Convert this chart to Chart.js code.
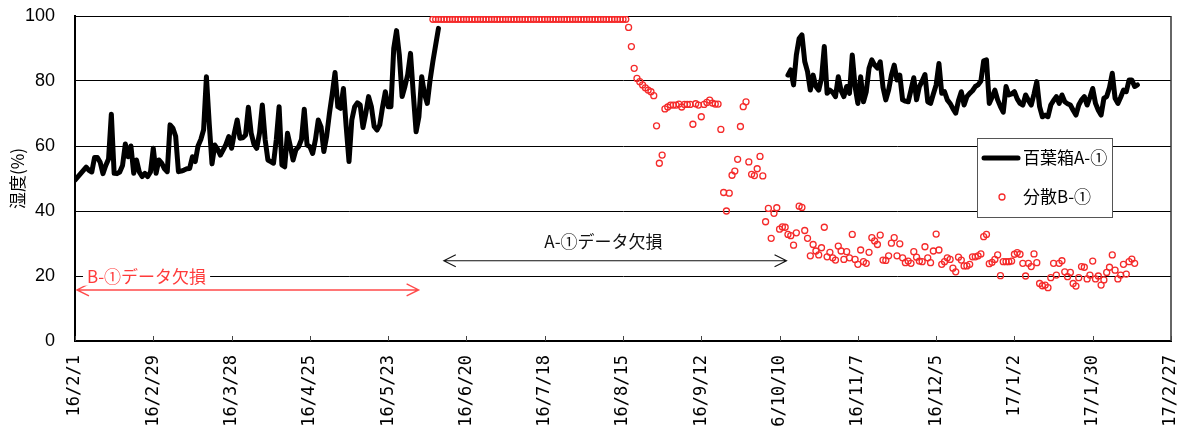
<!DOCTYPE html>
<html>
<head>
<meta charset="utf-8">
<script src="https://cdn.jsdelivr.net/npm/chart.js@4/dist/chart.umd.min.js"></script>
<style>
  html, body { margin: 0; padding: 0; background: #fff; }
  #wrap { width: 1182px; height: 427px; position: relative; }
</style>
</head>
<body>
<div id="wrap"><canvas id="c" width="1182" height="427"></canvas></div>
<script>
// Axis tick labels (one every 28 days from 16/2/1)
const tickLabels = ['16/2/1','16/2/29','16/3/28','16/4/25','16/5/23','16/6/20','16/7/18',
  '16/8/15','16/9/12','16/10/10','16/11/7','16/12/5','17/1/2','17/1/30','17/2/27'];
const yTicks = [0, 20, 40, 60, 80, 100];
const seriesNames = ['百葉箱A-①', '分散B-①'];
const yTitle = '湿度(%)';
const noteB = 'B-①データ欠損';
const noteA = 'A-①データ欠損';

// Daily humidity, 百葉箱A-① (first period)
const humA1Start = '2016-02-01';
const humA1 = [
  49.5,50.5,51.5,52.5,53.5,52.5,52,56.5,56.5,55,
  51.5,54,56,69.8,51.6,51.5,52,54,60.6,56.7,
  60,51.6,55.7,52,50.6,51.6,50.6,52,59.3,51.6,
  55.7,54.7,53,52.1,66.5,65.5,63,52.1,52.3,52.6,
  53,53.1,56.7,55.2,60,62,65,81.3,67,54.5,
  60.3,59,57.2,58.8,60.5,62.9,59.3,64,68,62.4,
  62.5,63.4,71.9,64,60.6,59.3,64,72.6,62,55.7,
  55.2,54.7,62,72.1,54.2,53.6,63.9,60,55.7,58.8,
  59.8,62,71.3,60.3,59.8,57.7,62,68,65.9,58.3,
  63,70,76,82.6,72.1,71.6,77.7,65.9,55.2,68,
  72,73.3,72.6,65.7,70,75.2,72.1,66,64.9,66.5,
  72,76.7,72.1,72.1,90,95.5,88,75.2,78.3,82,
  88.5,76,64.4,69,81.3,76,73.1,80.3,86,91.1,
  96.2
];

// Daily humidity, 百葉箱A-① (second period)
const humA2Start = '2016-10-13';
const humA2 = [
  81.8,83.4,78.8,88,93.1,94.2,86,82.9,77.2,81.8,
  78.3,77.2,80.8,90.6,76.2,77.2,76.5,75.2,81.3,77,
  75.2,78.3,76.2,88,78.3,73.1,81.3,73.6,76.7,83.9,
  86.5,84.9,84,85.9,78,74.2,77.2,81.8,84.9,80.3,
  81.8,74.2,73.8,73.6,77.2,81,74.2,78.3,80,82,
  73.6,73.1,76,78.8,85.4,76.2,76.7,74.2,73.1,71.5,
  70.1,74,76.7,72.6,75.2,76.2,77,78.3,78.8,80,
  86.2,86.5,73.1,75,77.2,74.2,72.1,70.4,78.3,75.7,
  76,76.7,74.5,73.1,72.6,75.7,74,72.6,76,79.8,
  72.1,69,69.5,69,72.6,74,75.2,73.1,75.7,73.6,
  73,72.6,71,69.5,72.6,74.2,75.2,72.6,75,77.7,
  73.1,71,69.5,74.7,75.2,78,82.4,74.7,73.1,75,
  77.2,76.7,80.3,80.3,78.3,78.8
];

// Daily humidity, 分散B-①
const humBStart = '2016-06-08';
const humB = [
  99,99,99,99,99,99,99,99,99,99,
  99,99,99,99,99,99,99,99,99,99,
  99,99,99,99,99,99,99,99,99,99,
  99,99,99,99,99,99,99,99,99,99,
  99,99,99,99,99,99,99,99,99,99,
  99,99,99,99,99,99,99,99,99,99,
  99,99,99,99,99,99,99,99,99,99,
  96.5,90.6,83.9,80.8,79.8,78.8,77.9,77.2,76.7,75.5,
  66.2,54.7,57.2,71.4,72,72.6,72.6,72.6,72.9,72,
  72.8,72.8,72.8,66.7,73,72.6,69,72.8,73.4,74.1,
  73.2,72.9,72.9,65.1,45.7,40,45.5,51,52.3,55.9,
  66,72.1,73.6,55.1,51.3,50.9,53,56.8,50.8,36.7,
  40.8,31.6,39.3,41,34.4,35.1,35,32.8,32.4,29.5,
  33.3,41.5,41.1,
  34,31.6,26.2,29.7,27.7,26.5,28.7,35,25.9,27.3,
  25.6,24.9,29.2,27.7,25.1,27.5,25.6,32.8,25.1,23.6,
  28,24.4,23.9,27.3,31.8,30.8,29.7,32.6,24.9,24.8,
  26.2,30.1,31.8,26.2,29.9,25.6,24.1,24.6,23.9,27.5,
  25.8,24.6,24.4,29,25.6,24.1,27.7,32.9,28,23.6,
  24.4,25.6,25.1,22.4,21.3,25.8,24.9,23.1,23.1,23.6,
  25.9,25.9,26.2,26.8,32.1,32.8,23.8,24.2,25.1,26.5,
  20.1,24.4,24.4,24.4,24.6,26.7,27.2,26.7,23.9,20,
  23.9,22.9,26.8,24.1,17.7,17,17.2,16.4,19.5,23.9,
  20.3,23.9,24.7,21.3,19.8,21.1,17.7,16.9,19.5,22.9,
  22.7,19.1,20.3,24.6,19.1,20,17.2,18.8,21.1,22.7,
  26.5,21.8,19.1,20.3,23.6,20.6,24.4,25.2,23.9
];

// Day number counted from 2016-02-01
const dayOf = s => {
  const [y, m, d] = s.split('-').map(Number);
  return Math.round((Date.UTC(y, m - 1, d) - Date.UTC(2016, 1, 1)) / 864e5);
};
const toPoints = (start, vals) => vals.map((v, i) => ({ x: dayOf(start) + i, y: v }));

const lineA = [
  ...toPoints(humA1Start, humA1),
  { x: dayOf(humA1Start) + humA1.length, y: null },
  ...toPoints(humA2Start, humA2)
];
const ptsB = toPoints(humBStart, humB);

const RED = '#f52a2a';
const JP = '"Noto Sans CJK JP", "Noto Sans", sans-serif';
const XNUM = '"DejaVu Sans Mono", "Liberation Mono", monospace';
const YNUM = '"Liberation Sans Narrow", "Liberation Sans", Arial, sans-serif';

function arrow(ctx, x1, x2, y, color, width) {
  ctx.save();
  ctx.strokeStyle = color;
  ctx.lineWidth = width;
  ctx.beginPath();
  ctx.moveTo(x1, y); ctx.lineTo(x2, y);
  ctx.moveTo(x1 + 12, y - 6); ctx.lineTo(x1, y); ctx.lineTo(x1 + 12, y + 6);
  ctx.moveTo(x2 - 12, y - 6); ctx.lineTo(x2, y); ctx.lineTo(x2 - 12, y + 6);
  ctx.stroke();
  ctx.restore();
}

const decor = {
  id: 'decor',
  beforeDatasetsDraw(chart) {
    const { ctx, chartArea: a, scales: { x, y } } = chart;
    ctx.save();
    // right frame line
    ctx.strokeStyle = '#333';
    ctx.lineWidth = 1.5;
    ctx.beginPath();
    ctx.moveTo(a.right, a.top); ctx.lineTo(a.right, a.bottom);
    ctx.stroke();
    // inward tick marks on the date axis
    ctx.strokeStyle = '#444';
    ctx.lineWidth = 1;
    x.ticks.forEach(t => {
      const px = Math.round(x.getPixelForValue(t.value)) + 0.5;
      ctx.beginPath();
      ctx.moveTo(px, a.bottom); ctx.lineTo(px, a.bottom - 5);
      ctx.stroke();
    });

    // missing-data spans
    arrow(ctx, x.getPixelForValue(0.7), x.getPixelForValue(122.9), y.getPixelForValue(15.7), '#ff4a4a', 1.4);
    arrow(ctx, x.getPixelForValue(131.9), x.getPixelForValue(254.5), y.getPixelForValue(24.7), '#111', 1.1);

    ctx.font = '17px ' + JP;
    ctx.textBaseline = 'middle';
    const bx = x.getPixelForValue(4.3), by = y.getPixelForValue(19.8);
    const bw = ctx.measureText(noteB).width;
    ctx.fillStyle = '#fff';
    ctx.fillRect(bx - 4, by - 9, bw + 8, 18);
    ctx.fillStyle = '#ff3b3b';
    ctx.textAlign = 'left';
    ctx.fillText(noteB, bx, by);
    ctx.fillStyle = '#111';
    ctx.textAlign = 'center';
    ctx.fillText(noteA, x.getPixelForValue(189), y.getPixelForValue(30.5));
    ctx.restore();
  },
  afterDraw(chart) {
    const { ctx } = chart;
    const dsA = chart.data.datasets[0], dsB = chart.data.datasets[1];
    ctx.save();
    ctx.fillStyle = '#fff';
    ctx.fillRect(977.5, 138.5, 135, 79);
    ctx.strokeStyle = '#555';
    ctx.lineWidth = 1;
    ctx.strokeRect(977.5, 138.5, 135, 79);
    ctx.strokeStyle = dsA.borderColor;
    ctx.lineWidth = dsA.borderWidth;
    ctx.lineCap = 'round';
    ctx.beginPath();
    ctx.moveTo(984, 158); ctx.lineTo(1018, 158);
    ctx.stroke();
    ctx.strokeStyle = dsB.pointBorderColor;
    ctx.lineWidth = dsB.pointBorderWidth;
    ctx.beginPath();
    ctx.arc(1002, 197, dsB.pointRadius, 0, Math.PI * 2);
    ctx.stroke();
    ctx.fillStyle = '#000';
    ctx.font = '17px ' + JP;
    ctx.textBaseline = 'middle';
    ctx.textAlign = 'left';
    ctx.fillText(dsA.label, 1023, 158);
    ctx.fillText(dsB.label, 1023, 197);
    ctx.restore();
  }
};

new Chart(document.getElementById('c').getContext('2d'), {
  type: 'line',
  data: {
    datasets: [
      {
        label: seriesNames[0],
        data: lineA,
        borderColor: '#000',
        borderWidth: 5,
        borderJoinStyle: 'round',
        borderCapStyle: 'round',
        pointRadius: 0,
        tension: 0,
        spanGaps: false,
        fill: false
      },
      {
        label: seriesNames[1],
        data: ptsB,
        showLine: false,
        pointStyle: 'circle',
        pointRadius: 3,
        pointBorderWidth: 1.3,
        pointBorderColor: RED,
        pointBackgroundColor: 'rgba(255,255,255,0)'
      }
    ]
  },
  options: {
    responsive: false,
    animation: false,
    devicePixelRatio: 1,
    layout: { padding: { top: 16, right: 11, left: 0, bottom: 0 } },
    plugins: { legend: { display: false }, tooltip: { enabled: false } },
    scales: {
      x: {
        type: 'linear',
        min: 0,
        max: 28 * (tickLabels.length - 1),
        ticks: {
          stepSize: 28,
          autoSkip: false,
          maxRotation: 90,
          minRotation: 90,
          padding: 14,
          color: '#000',
          font: { family: XNUM, size: 17 },
          callback: v => tickLabels[Math.round(v / 28)]
        },
        grid: { display: false, drawTicks: false },
        border: { color: '#000', width: 2 },
        afterFit: s => { s.height = 86; s.paddingLeft = 0; s.paddingRight = 0; }
      },
      y: {
        min: 0,
        max: 100,
        afterBuildTicks: s => { s.ticks = yTicks.map(v => ({ value: v })); },
        ticks: {
          color: '#000',
          padding: 20,
          font: { family: YNUM, size: 18 }
        },
        grid: { color: '#000', lineWidth: 1, drawTicks: false },
        border: { color: '#000', width: 2 },
        title: {
          display: true,
          text: yTitle,
          color: '#000',
          font: { family: JP, size: 17 },
          padding: { top: 7, bottom: 0 }
        },
        afterFit: s => { s.width = 75; s.paddingTop = 0; s.paddingBottom = 0; }
      }
    }
  },
  plugins: [decor]
});
</script>
</body>
</html>
